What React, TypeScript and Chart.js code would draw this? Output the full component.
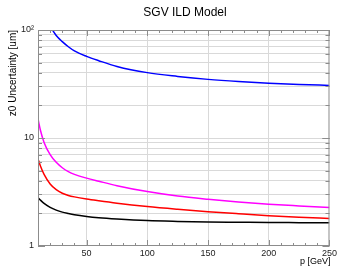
import React, { useEffect, useRef } from "react";
import { Chart, registerables } from "chart.js";

Chart.register(...registerables);

const titleText = "SGV ILD Model";
const xTitle = "p [GeV]";
const yTitle = "z0 Uncertainty [um]";

const pValues = [10, 12, 15, 20, 25, 30, 35, 40, 50, 60, 75, 100, 125, 150, 175, 200, 225, 250];
const magentaValues = [15.0, 11.8, 9.1, 7.0, 5.95, 5.3, 4.88, 4.6, 4.25, 3.98, 3.62, 3.19, 2.9, 2.71, 2.56, 2.44, 2.35, 2.27];
const redValues = [6.4, 5.5, 4.6, 3.75, 3.32, 3.08, 2.94, 2.85, 2.72, 2.62, 2.49, 2.32, 2.19, 2.08, 1.99, 1.91, 1.85, 1.8];
const blackValues = [2.8, 2.66, 2.48, 2.28, 2.15, 2.06, 2.0, 1.95, 1.88, 1.83, 1.78, 1.72, 1.69, 1.67, 1.66, 1.65, 1.645, 1.64];

const pBlue = [20, 25, 30, 35, 40, 50, 60, 75, 100, 125, 150, 175, 200, 225, 250];
const blueValues = [108, 89, 78, 70, 64, 57, 52, 46, 40.3, 37.2, 34.9, 33.3, 32.1, 31.3, 30.7];

const xMajorTicks = [50, 100, 150, 200, 250];
const yLabelTicks = [1, 10, 100];

const FONT = "'Liberation Sans', Arial, sans-serif";

function toPoints(xs: number[], ys: number[]) {
  return xs.map((x, i) => ({ x, y: ys[i] }));
}

const framePlugin = {
  id: "rootFrame",
  afterDraw(chart: any) {
    const { ctx, chartArea } = chart;
    const xs = chart.scales.x;
    const ys = chart.scales.y;
    ctx.save();
    ctx.strokeStyle = "#8c8c8c";
    ctx.lineWidth = 1;
    ctx.strokeRect(chartArea.left + 0.5, chartArea.top + 0.5, chartArea.right - chartArea.left - 1, chartArea.bottom - chartArea.top - 1);
    for (let v = 10; v <= 250; v += 10) {
      const px = Math.round(xs.getPixelForValue(v)) + 0.5;
      const len = v % 50 === 0 ? 6 : 3;
      ctx.beginPath();
      ctx.moveTo(px, chartArea.bottom);
      ctx.lineTo(px, chartArea.bottom - len);
      ctx.moveTo(px, chartArea.top);
      ctx.lineTo(px, chartArea.top + len);
      ctx.stroke();
    }
    for (let d = 1; d <= 10; d *= 10) {
      for (let m = 1; m <= 10; m++) {
        const v = d * m;
        if (v > 100) continue;
        const py = Math.round(ys.getPixelForValue(v)) + 0.5;
        const len = m === 1 || m === 10 ? 7 : 4;
        ctx.beginPath();
        ctx.moveTo(chartArea.left, py);
        ctx.lineTo(chartArea.left + len, py);
        ctx.moveTo(chartArea.right, py);
        ctx.lineTo(chartArea.right - len, py);
        ctx.stroke();
      }
    }
    ctx.fillStyle = "#000";
    ctx.font = `12px ${FONT}`;
    ctx.textAlign = "center";
    ctx.textBaseline = "middle";
    ctx.fillText(titleText, 185, 13);
    ctx.font = `9px ${FONT}`;
    ctx.textAlign = "right";
    ctx.fillText(xTitle, chartArea.right + 1, 262);
    ctx.save();
    ctx.translate(13.5, chartArea.top);
    ctx.rotate(-Math.PI / 2);
    ctx.font = `10px ${FONT}`;
    ctx.textAlign = "right";
    ctx.fillText(yTitle, 0, 0);
    ctx.restore();
    ctx.restore();
  },
};

export default function App() {
  const ref = useRef<HTMLCanvasElement | null>(null);
  useEffect(() => {
    if (!ref.current) return;
    const chart = new Chart(ref.current, {
      type: "line",
      data: {
        datasets: [
          { data: toPoints(pBlue, blueValues), borderColor: "#0000ff" },
          { data: toPoints(pValues, magentaValues), borderColor: "#ff00ff" },
          { data: toPoints(pValues, redValues), borderColor: "#ff0000" },
          { data: toPoints(pValues, blackValues), borderColor: "#000000" },
        ].map((d) => ({
          ...d,
          borderWidth: 1.5,
          pointRadius: 0,
          fill: false,
          cubicInterpolationMode: "monotone" as const,
        })),
      },
      options: {
        animation: false,
        responsive: false,
        maintainAspectRatio: false,
        layout: { padding: { top: 30, right: 8, left: 0, bottom: 0 } },
        plugins: { legend: { display: false }, tooltip: { enabled: false }, title: { display: false } },
        scales: {
          x: {
            type: "linear",
            min: 10,
            max: 250,
            afterFit: (s: any) => { s.height = 21; },
            afterBuildTicks: (s: any) => {
              const t = [];
              for (let v = 10; v <= 250; v += 10) t.push({ value: v });
              s.ticks = t;
            },
            ticks: {
              autoSkip: false,
              maxRotation: 0,
              padding: 2,
              color: "#222",
              font: { size: 9, family: FONT },
              callback: (v: any) => (xMajorTicks.includes(Number(v)) ? String(v) : ""),
            },
            grid: {
              drawTicks: false,
              color: (c: any) => {
                const v = c.tick ? c.tick.value : 0;
                return v % 50 === 0 && v < 250 ? "#d9d9d9" : "rgba(0,0,0,0)";
              },
            },
            border: { display: false },
          },
          y: {
            type: "logarithmic",
            min: 1,
            max: 100,
            afterFit: (s: any) => { s.width = 38; },
            afterBuildTicks: (s: any) => {
              const t = [];
              for (let d = 1; d <= 10; d *= 10) for (let m = 1; m < 10; m++) t.push({ value: d * m });
              t.push({ value: 100 });
              s.ticks = t;
            },
            ticks: {
              autoSkip: false,
              padding: 4,
              color: "#222",
              font: { size: 9, family: FONT },
              callback: (v: any) => {
                const n = Number(v);
                if (n === 100) return "10²";
                return yLabelTicks.includes(n) ? String(n) : "";
              },
            },
            grid: {
              drawTicks: false,
              color: (c: any) => {
                const v = c.tick ? c.tick.value : 0;
                return v === 1 || v === 100 ? "rgba(0,0,0,0)" : "#d9d9d9";
              },
            },
            border: { display: false },
          },
        },
      },
      plugins: [framePlugin],
    });
    return () => chart.destroy();
  }, []);
  return (
    <div style={{ position: "fixed", left: 0, top: 0, width: 339, height: 267, background: "#fff" }}>
      <canvas ref={ref} width={339} height={267} style={{ width: 339, height: 267 }} />
    </div>
  );
}
